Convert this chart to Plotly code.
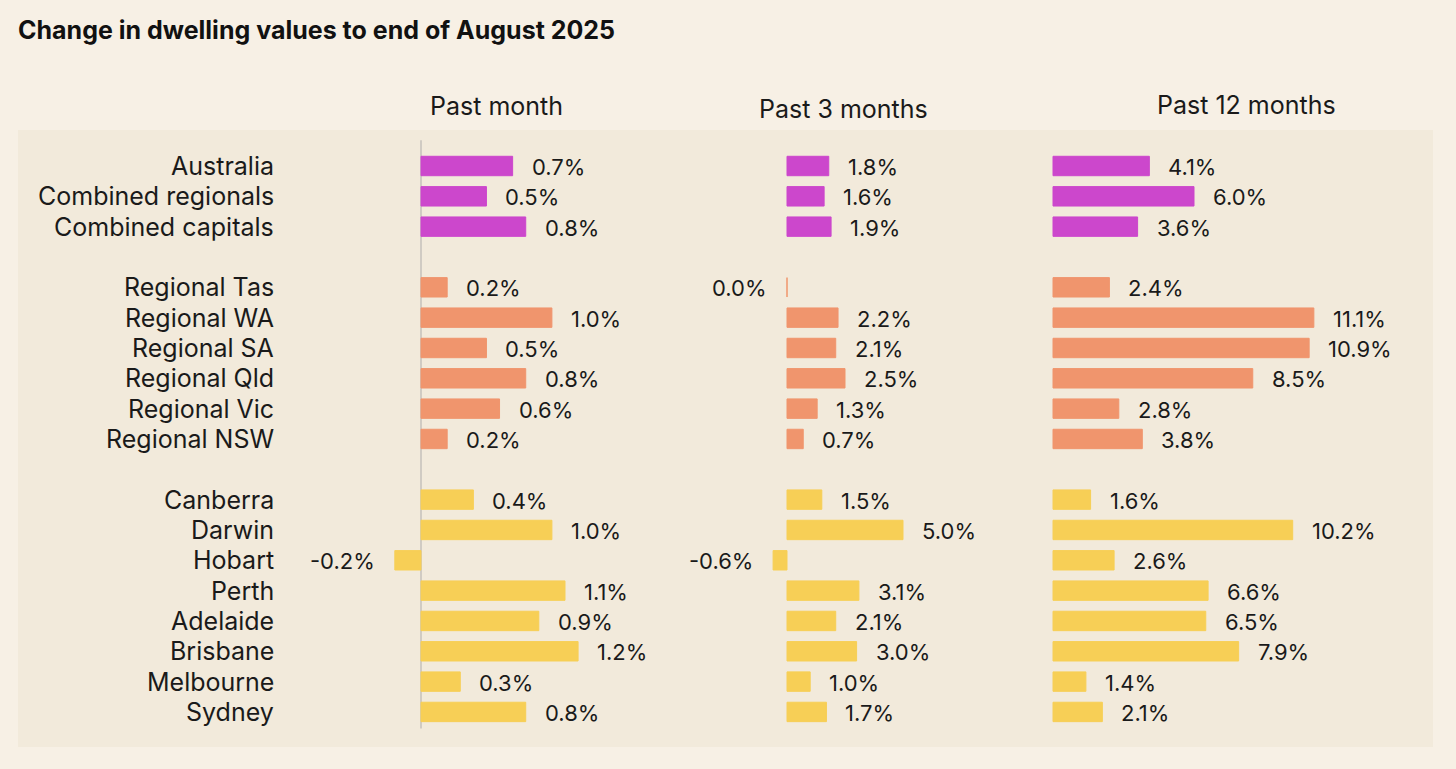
import plotly.graph_objects as go

categories = ["Australia", "Combined regionals", "Combined capitals", "",
              "Regional Tas", "Regional WA", "Regional SA", "Regional Qld", "Regional Vic", "Regional NSW", "",
              "Canberra", "Darwin", "Hobart", "Perth", "Adelaide", "Brisbane", "Melbourne", "Sydney"]
groups = ["agg", "agg", "agg", None,
          "reg", "reg", "reg", "reg", "reg", "reg", None,
          "cap", "cap", "cap", "cap", "cap", "cap", "cap", "cap"]
past_month = [0.7, 0.5, 0.8, None, 0.2, 1.0, 0.5, 0.8, 0.6, 0.2, None,
              0.4, 1.0, -0.2, 1.1, 0.9, 1.2, 0.3, 0.8]
past_3_months = [1.8, 1.6, 1.9, None, 0.0, 2.2, 2.1, 2.5, 1.3, 0.7, None,
                 1.5, 5.0, -0.6, 3.1, 2.1, 3.0, 1.0, 1.7]
past_12_months = [4.1, 6.0, 3.6, None, 2.4, 11.1, 10.9, 8.5, 2.8, 3.8, None,
                  1.6, 10.2, 2.6, 6.6, 6.5, 7.9, 1.4, 2.1]
panel_titles = ["Past month", "Past 3 months", "Past 12 months"]
title_text = "Change in dwelling values to end of August 2025"

colors = {"agg": "#cc47cc", "reg": "#f0956d", "cap": "#f7cf56", None: "rgba(0,0,0,0)"}

W, H = 1456, 769
FONT = "Inter"
BG = "#f7f0e5"

slots = list(range(len(categories)))
fig = go.Figure()

series = [past_month, past_3_months, past_12_months]
axes = [("x", "y"), ("x2", "y"), ("x3", "y")]
annotations = []
for vals, (xa, ya) in zip(series, axes):
    cols = [colors[g] for g in groups]
    fig.add_trace(go.Bar(
        x=vals, y=slots, orientation="h", xaxis=xa, yaxis=ya,
        marker=dict(color=cols, line=dict(color=cols, width=1)),
        width=0.64, hoverinfo="skip", showlegend=False,
    ))
    for s, v in zip(slots, vals):
        if v is None:
            continue
        annotations.append(dict(
            x=v, y=s, xref=xa, yref=ya, text=f"{v:.1f}%",
            xanchor="left" if v > 0 else "right",
            xshift=17 if v > 0 else -18,
            yshift=-1,
            showarrow=False, font=dict(family=FONT, size=22, color="#1a1a1a"),
        ))

# category labels
for s, c in zip(slots, categories):
    if not c:
        continue
    annotations.append(dict(
        x=276 / W, y=s, xref="paper", yref="y", text=c, xanchor="right",
        showarrow=False, font=dict(family=FONT, size=25, color="#1a1a1a"),
    ))

# panel headers
for t, cx, cy in zip(panel_titles, [496, 843, 1246], [106, 109, 105]):
    annotations.append(dict(
        x=cx / W, y=1 - cy / H, xref="paper", yref="paper", text=t,
        xanchor="center", yanchor="middle", showarrow=False,
        font=dict(family=FONT, size=25, color="#1a1a1a"),
    ))

annotations.append(dict(
    x=16 / W, y=1 - 30 / H, xref="paper", yref="paper",
    text=f"<b>{title_text}</b>", xanchor="left", yanchor="middle", showarrow=False,
    font=dict(family=FONT, size=25, color="#111111"),
))

def rng(d0, d1, zero, scale):
    return [(d0 - zero) / scale, (d1 - zero) / scale]

doms = [(380, 680), (690, 1000), (1010, 1440)]
zeros = [421, 787, 1053]
scales = [130.9, 23.2, 23.5]

row_h = 30.33
r_top = -166 / row_h
r_bot = r_top + H / row_h

layout_axes = {}
for i, ((d0, d1), z, sc) in enumerate(zip(doms, zeros, scales)):
    name = "xaxis" if i == 0 else f"xaxis{i+1}"
    layout_axes[name] = dict(
        domain=[d0 / W, d1 / W], range=rng(d0, d1, z, sc), visible=False,
        anchor="y", fixedrange=True,
    )

fig.update_layout(
    width=W, height=H,
    margin=dict(l=0, r=0, t=0, b=0),
    paper_bgcolor=BG, plot_bgcolor="rgba(0,0,0,0)",
    yaxis=dict(domain=[0, 1], range=[r_bot, r_top], visible=False, fixedrange=True),
    bargap=0.3,
    annotations=annotations,
    shapes=[
        dict(type="rect", xref="paper", yref="paper", x0=18 / W, x1=1433 / W,
             y0=1 - 747 / H, y1=1 - 130 / H, fillcolor="#f2eadb", line=dict(width=0), layer="below"),
        dict(type="line", xref="x", yref="y", x0=0, x1=0, y0=-0.85, y1=18.55,
             line=dict(color="#d0cbc3", width=2), layer="below"),
    ],
    **layout_axes,
)

fig.write_html("out.html", config={"displayModeBar": False},
               post_script=f"document.body.style.margin='0';document.body.style.overflow='hidden';document.body.style.background='{BG}';")
